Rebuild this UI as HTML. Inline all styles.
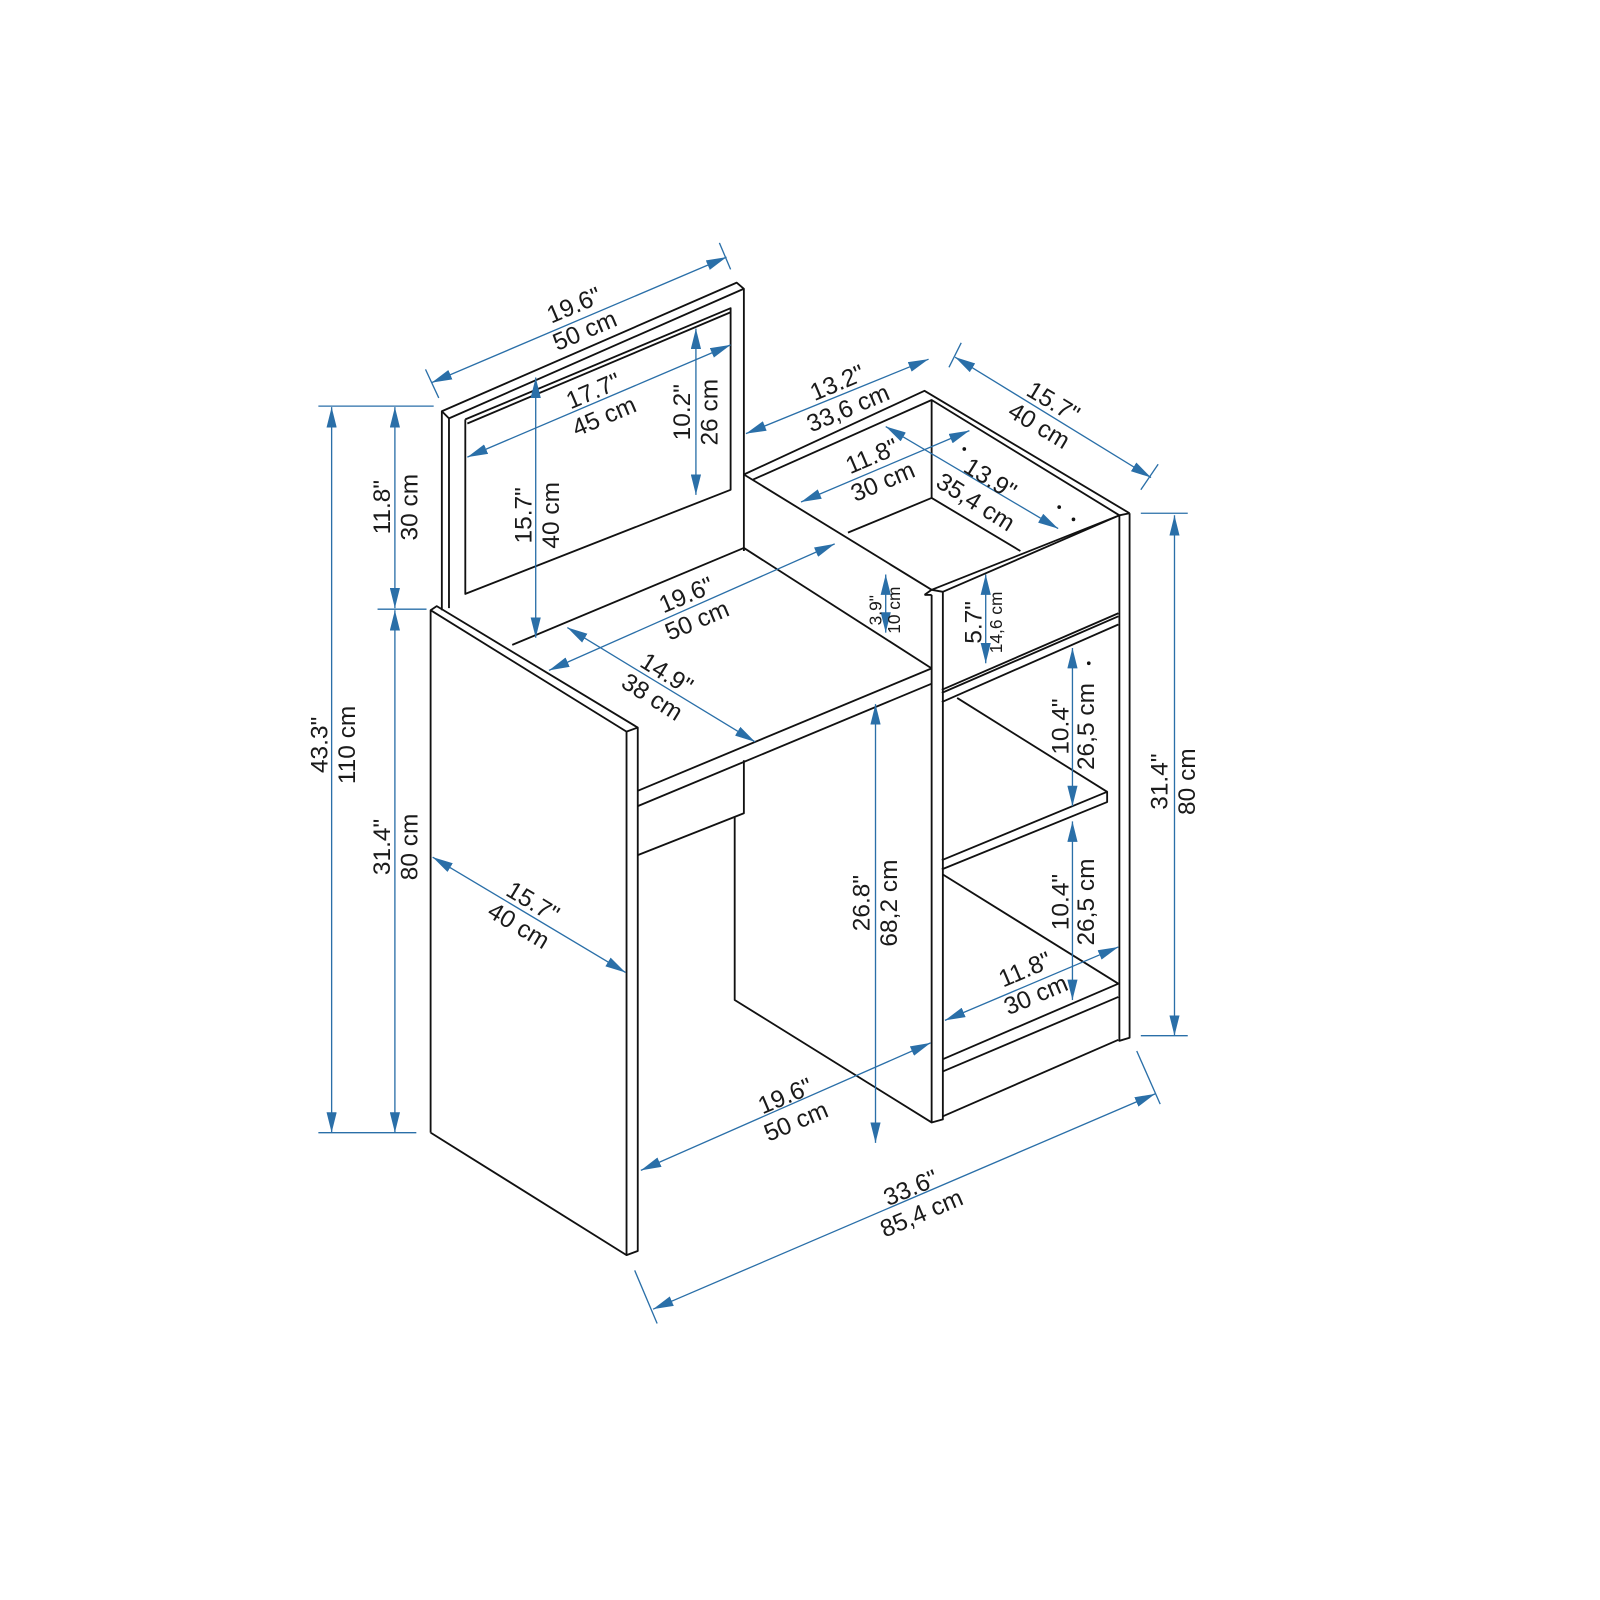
<!DOCTYPE html>
<html><head><meta charset="utf-8"><style>
html,body{margin:0;padding:0;background:#fff}
svg{display:block}
text{font-family:"Liberation Sans",Arial,sans-serif;font-size:24px;fill:#1a1a1a;text-anchor:middle}
.s{font-size:17px}
.d{stroke:#2a6fa8;stroke-width:1.3;fill:none}
.k{stroke:#111;stroke-width:1.8;fill:none;stroke-linejoin:round}
</style></head><body>
<svg width="1600" height="1600" viewBox="0 0 1568 1568" xmlns="http://www.w3.org/2000/svg">
<defs>
<marker id="a" viewBox="0 0 20 10" refX="20" refY="5" markerWidth="20" markerHeight="10" markerUnits="userSpaceOnUse" orient="auto-start-reverse">
<path d="M0,0 L20,5 L0,10 z" fill="#2a6fa8"/></marker>
</defs>
<rect width="1568" height="1568" fill="#fff"/>
<g class="k">
<polyline points="433,598 433,403 722,277 729,283 729,540"/>
<polyline points="440,596 440,410 729,283"/>
<line x1="433" y1="403" x2="440" y2="410"/>
<polyline points="456,411 716,302 716,480 456,582 456,411"/>
<line x1="458" y1="415" x2="716" y2="306"/>
<polyline points="422,1110 422,598 428,594 625,713 625,1226 614,1230 422,1110"/>
<line x1="422" y1="598" x2="614" y2="717"/>
<line x1="614" y1="717" x2="614" y2="1230"/>
<line x1="614" y1="717" x2="625" y2="713"/>
<line x1="502" y1="632" x2="729" y2="537"/>
<line x1="729" y1="537" x2="913" y2="655"/>
<line x1="625" y1="775" x2="913" y2="655"/>
<line x1="625" y1="790" x2="913" y2="670"/>
<polyline points="729,745 729,797 625,838"/>
<polyline points="720,800 720,980 913,1100"/>
<polyline points="729,465 906,383 1107,503"/>
<line x1="729" y1="465" x2="913" y2="578"/>
<polyline points="738,470 913,392 1097,505"/>
<line x1="913" y1="392" x2="913" y2="488"/>
<polyline points="831,522 913,488 1000,540"/>
<polyline points="906,583 913,578 924,580 924,1097 913,1100 913,583"/>
<line x1="906" y1="583" x2="913" y2="583"/>
<line x1="924" y1="580" x2="1097" y2="505"/>
<line x1="1097" y1="505" x2="1107" y2="503"/>
<polyline points="1097,505 1097,1020 1107,1017 1107,503"/>
<line x1="913" y1="578" x2="1097" y2="505"/>
<line x1="923" y1="676" x2="1096" y2="601"/>
<line x1="923" y1="679" x2="1096" y2="604"/>
<line x1="923" y1="688" x2="1096" y2="612"/>
<line x1="938" y1="684" x2="1085" y2="776"/>
<polyline points="923,843 1085,776 1085,786 923,852"/>
<line x1="924" y1="857" x2="1096" y2="964"/>
<line x1="924" y1="1038" x2="1096" y2="964"/>
<line x1="924" y1="1050" x2="1096" y2="977"/>
<line x1="924" y1="1094" x2="1096" y2="1019"/>
</g>
<g class="d">
<line x1="423" y1="375" x2="712" y2="252" marker-start="url(#a)" marker-end="url(#a)"/>
<line x1="417" y1="362" x2="430" y2="390"/><line x1="705" y1="238" x2="716" y2="264"/>
<line x1="458" y1="448" x2="716" y2="338" marker-start="url(#a)" marker-end="url(#a)"/>
<line x1="682" y1="322" x2="682" y2="485" marker-start="url(#a)" marker-end="url(#a)"/>
<line x1="525" y1="370" x2="525" y2="625" marker-start="url(#a)" marker-end="url(#a)"/>
<line x1="731" y1="425" x2="910" y2="352" marker-start="url(#a)" marker-end="url(#a)"/>
<line x1="936" y1="350" x2="1128" y2="468" marker-start="url(#a)" marker-end="url(#a)"/>
<line x1="942" y1="336" x2="930" y2="360"/><line x1="1135" y1="455" x2="1118" y2="480"/>
<line x1="785" y1="492" x2="950" y2="422" marker-start="url(#a)" marker-end="url(#a)"/>
<line x1="868" y1="418" x2="1037" y2="518" marker-start="url(#a)" marker-end="url(#a)"/>
<line x1="538" y1="657" x2="818" y2="533" marker-start="url(#a)" marker-end="url(#a)"/>
<line x1="556" y1="615" x2="740" y2="727" marker-start="url(#a)" marker-end="url(#a)"/>
<line x1="868" y1="563" x2="868" y2="620" marker-start="url(#a)" marker-end="url(#a)"/>
<line x1="966" y1="563" x2="966" y2="650" marker-start="url(#a)" marker-end="url(#a)"/>
<line x1="1051" y1="635" x2="1051" y2="790" marker-start="url(#a)" marker-end="url(#a)"/>
<line x1="1051" y1="805" x2="1051" y2="980" marker-start="url(#a)" marker-end="url(#a)"/>
<line x1="926" y1="1000" x2="1096" y2="928" marker-start="url(#a)" marker-end="url(#a)"/>
<line x1="858" y1="690" x2="858" y2="1120" marker-start="url(#a)" marker-end="url(#a)"/>
<line x1="628" y1="1147" x2="912" y2="1022" marker-start="url(#a)" marker-end="url(#a)"/>
<line x1="640" y1="1283" x2="1132" y2="1072" marker-start="url(#a)" marker-end="url(#a)"/>
<line x1="622" y1="1245" x2="644" y2="1297"/><line x1="1114" y1="1030" x2="1137" y2="1082"/>
<line x1="1151" y1="505" x2="1151" y2="1015" marker-start="url(#a)" marker-end="url(#a)"/>
<line x1="1118" y1="503" x2="1164" y2="503"/><line x1="1118" y1="1015" x2="1164" y2="1015"/>
<line x1="325" y1="399" x2="325" y2="1110" marker-start="url(#a)" marker-end="url(#a)"/>
<line x1="312" y1="398" x2="425" y2="398"/><line x1="312" y1="1110" x2="408" y2="1110"/>
<line x1="387" y1="399" x2="387" y2="596" marker-start="url(#a)" marker-end="url(#a)"/>
<line x1="387" y1="598" x2="387" y2="1110" marker-start="url(#a)" marker-end="url(#a)"/>
<line x1="370" y1="597" x2="418" y2="597"/>
<line x1="424" y1="840" x2="613" y2="953" marker-start="url(#a)" marker-end="url(#a)"/>
</g>
<g>
<g transform="translate(568,312) rotate(-23)"><text y="-6">19.6"</text><text y="21">50 cm</text></g>
<g transform="translate(587,396) rotate(-23)"><text y="-6">17.7"</text><text y="21">45 cm</text></g>
<g transform="translate(682,404) rotate(-90)"><text y="-6">10.2"</text><text y="21">26 cm</text></g>
<g transform="translate(527,505) rotate(-90)"><text y="-6">15.7"</text><text y="21">40 cm</text></g>
<g transform="translate(826,388) rotate(-23)"><text y="-6">13.2"</text><text y="21">33,6 cm</text></g>
<g transform="translate(1025,406) rotate(31)"><text y="-6">15.7"</text><text y="21">40 cm</text></g>
<g transform="translate(860,460) rotate(-23)"><text y="-6">11.8"</text><text y="21">30 cm</text></g>
<g transform="translate(963,481) rotate(32)"><text y="-6">13.9"</text><text y="21">35,4 cm</text></g>
<g transform="translate(678,596) rotate(-23)"><text y="-6">19.6"</text><text y="21">50 cm</text></g>
<g transform="translate(646,672) rotate(32)"><text y="-6">14.9"</text><text y="21">38 cm</text></g>
<g transform="translate(868,598) rotate(-90)"><text class="s" y="-4">3.9"</text><text class="s" y="14">10 cm</text></g>
<g transform="translate(966,610) rotate(-90)"><text y="-4">5.7"</text><text class="s" y="16">14,6 cm</text></g>
<g transform="translate(1051,712) rotate(-90)"><text y="-4">10.4"</text><text y="21">26,5 cm</text></g>
<g transform="translate(1051,884) rotate(-90)"><text y="-4">10.4"</text><text y="21">26,5 cm</text></g>
<g transform="translate(1010,963) rotate(-23)"><text y="-6">11.8"</text><text y="21">30 cm</text></g>
<g transform="translate(858,885) rotate(-90)"><text y="-6">26.8"</text><text y="21">68,2 cm</text></g>
<g transform="translate(775,1087) rotate(-23)"><text y="-6">19.6"</text><text y="21">50 cm</text></g>
<g transform="translate(898,1177) rotate(-23)"><text y="-6">33.6"</text><text y="21">85,4 cm</text></g>
<g transform="translate(1150,766) rotate(-90)"><text y="-6">31.4"</text><text y="21">80 cm</text></g>
<g transform="translate(327,730) rotate(-90)"><text y="-6">43.3"</text><text y="21">110 cm</text></g>
<g transform="translate(388,497) rotate(-90)"><text y="-6">11.8"</text><text y="21">30 cm</text></g>
<g transform="translate(388,830) rotate(-90)"><text y="-6">31.4"</text><text y="21">80 cm</text></g>
<g transform="translate(515,896) rotate(31)"><text y="-6">15.7"</text><text y="21">40 cm</text></g>
</g>
<g fill="#111"><circle cx="945" cy="440" r="1.8"/><circle cx="1038" cy="497" r="1.8"/><circle cx="1052" cy="509" r="1.8"/><circle cx="1067" cy="650" r="1.8"/></g>
</svg>
</body></html>
